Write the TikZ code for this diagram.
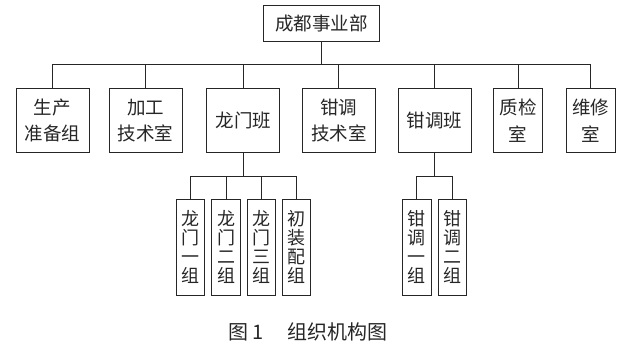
\documentclass[tikz,border=0pt]{standalone}
\usepackage{fontspec}
\newfontfamily\cjk{Noto Sans CJK SC}
\usetikzlibrary{calc}

\tikzset{
  box/.style={draw=black!85,line width=0.8pt,inner sep=0pt,align=center,
    text=black!85,font=\cjk\fontsize{18.5}{26.7}\selectfont},
  unit/.style={box,minimum width=73pt,minimum height=64.5pt},
  group/.style={box,minimum width=28.5pt,minimum height=95.5pt,
    font=\cjk\fontsize{18}{19}\selectfont},
  link/.style={draw=black!85,line width=0.8pt}
}

\begin{document}
\begin{tikzpicture}[x=1pt,y=-1pt]
  \useasboundingbox (0,0) rectangle (624,353);

  % head
  \node[box,minimum width=116pt,minimum height=36pt] (head) at (321.3,23) {成都事业部};

  % second row
  \node[unit] (prep)    at (52.5,120.5)  {生产\\准备组};
  \node[unit] (proc)    at (145.5,120.5) {加工\\技术室};
  \node[unit] (gantry)  at (243.3,120.5) {龙门班};
  \node[unit] (fittech) at (338.8,120.5) {钳调\\技术室};
  \node[unit] (fit)     at (434.6,120.5) {钳调班};
  \node[unit,minimum width=49pt] (qc)     at (518,120.5)   {质检\\室};
  \node[unit,minimum width=49pt] (repair) at (590.5,120.5) {维修\\室};

  % groups
  \node[group] (g1)  at (190.5,247.3) {龙\\门\\一\\组};
  \node[group] (g2)  at (226,247.3)   {龙\\门\\二\\组};
  \node[group] (g3)  at (261.3,247.3) {龙\\门\\三\\组};
  \node[group] (asm) at (296.5,247.3) {初\\装\\配\\组};
  \node[group] (f1)  at (416.8,247.3) {钳\\调\\一\\组};
  \node[group] (f2)  at (452.5,247.3) {钳\\调\\二\\组};

  % buses
  \coordinate (bus) at (0,64.5);
  \coordinate (sub) at (0,176.2);

  \draw[link] (head.south) -- (head.south |- bus);
  \draw[link] (prep.north |- bus) -- (repair.north |- bus);
  \foreach \n in {prep,proc,gantry,fittech,fit,qc,repair}
    \draw[link] (\n.north) -- (\n.north |- bus);

  \draw[link] (gantry.south) -- (gantry.south |- sub);
  \draw[link] (g1.north |- sub) -- (asm.north |- sub);
  \foreach \n in {g1,g2,g3,asm}
    \draw[link] (\n.north) -- (\n.north |- sub);

  \draw[link] (fit.south) -- (fit.south |- sub);
  \draw[link] (f1.north |- sub) -- (f2.north |- sub);
  \foreach \n in {f1,f2}
    \draw[link] (\n.north) -- (\n.north |- sub);

  \node[text=black!85,font=\cjk\fontsize{20}{22}\selectfont] (caption) at (308,332)
    {图\,1\hspace{24pt}组织机构图};
\end{tikzpicture}
\end{document}
